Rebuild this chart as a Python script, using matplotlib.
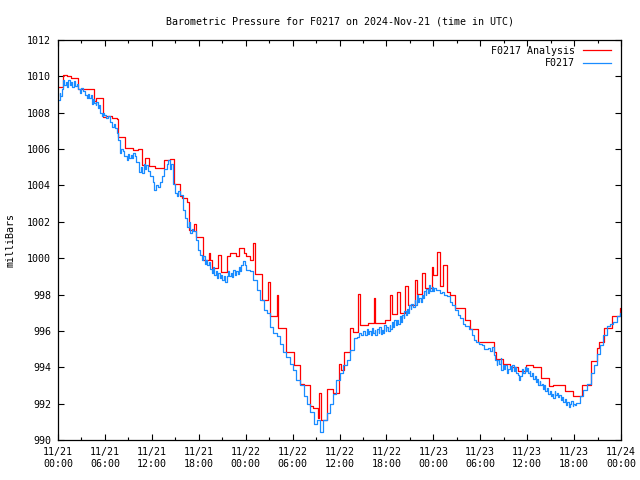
import matplotlib
matplotlib.use('Agg')
import matplotlib.pyplot as plt
from matplotlib.ticker import MultipleLocator

plt.rcParams['font.family'] = ['DejaVu Sans Mono']

# hours since 2024-11-21 00:00 UTC, pressure in mb
obs_hours = [
    0.0, 0.2, 0.3, 0.5, 0.7, 0.8, 1.0, 1.1, 1.3, 1.5, 1.6, 1.8, 2.0, 2.2, 2.4, 2.6,
    2.8, 3.0, 3.2, 3.4, 3.7, 3.8, 4.0, 4.2, 4.3, 4.5, 4.6, 4.8, 4.9, 5.1, 5.2, 5.4,
    5.6, 5.7, 5.9, 6.2, 6.4, 6.6, 6.9, 7.1, 7.3, 7.5, 7.7, 7.9, 8.1, 8.3, 8.5, 8.8,
    9.0, 9.1, 9.3, 9.4, 9.6, 9.8, 10.0, 10.3, 10.4, 10.6, 10.8, 11.0, 11.1, 11.3,
    11.5, 11.8, 12.1, 12.3, 12.5, 12.8, 13.0, 13.3, 13.6, 13.9, 14.1, 14.3, 14.5,
    14.7, 15.0, 15.2, 15.4, 15.6, 16.0, 16.2, 16.5, 16.7, 16.9, 17.1, 17.3, 17.6,
    17.9, 18.1, 18.4, 18.6, 18.8, 18.9, 19.1, 19.3, 19.5, 19.7, 19.8, 20.0, 20.2,
    20.3, 20.5, 20.7, 20.9, 21.0, 21.2, 21.4, 21.6, 21.8, 21.9, 22.1, 22.3, 22.4,
    22.6, 22.8, 23.0, 23.1, 23.3, 23.4, 23.6, 23.7, 23.9, 24.1, 24.5, 25.0, 25.4,
    25.8, 26.3, 26.7, 27.1, 27.5, 28.0, 28.4, 28.8, 29.2, 29.7, 30.1, 30.5, 30.9,
    31.4, 31.8, 32.2, 32.7, 33.1, 33.5, 33.9, 34.4, 34.8, 35.2, 35.6, 36.1, 36.5,
    36.9, 37.3, 37.8, 38.2, 38.5, 38.8, 39.0, 39.2, 39.5, 39.6, 39.8, 40.0, 40.1,
    40.3, 40.5, 40.6, 40.8, 41.0, 41.1, 41.3, 41.4, 41.6, 41.7, 41.9, 42.0, 42.2,
    42.4, 42.5, 42.7, 42.9, 43.0, 43.2, 43.3, 43.5, 43.7, 43.9, 44.0, 44.2, 44.3,
    44.5, 44.6, 44.8, 44.9, 45.1, 45.2, 45.4, 45.6, 45.7, 45.9, 46.0, 46.2, 46.4,
    46.5, 46.7, 46.8, 47.0, 47.1, 47.3, 47.4, 47.6, 47.8, 47.9, 48.1, 48.4, 48.8,
    49.1, 49.4, 49.7, 50.1, 50.4, 50.8, 51.1, 51.4, 51.8, 52.1, 52.5, 52.9, 53.2,
    53.5, 53.8, 54.2, 54.5, 55.0, 55.3, 55.5, 55.7, 55.9, 56.1, 56.2, 56.4, 56.6,
    56.7, 56.9, 57.0, 57.2, 57.4, 57.6, 57.8, 57.9, 58.1, 58.3, 58.4, 58.6, 58.8,
    59.0, 59.1, 59.3, 59.5, 59.7, 59.8, 60.0, 60.1, 60.3, 60.4, 60.6, 60.8, 61.0,
    61.1, 61.3, 61.4, 61.6, 61.7, 61.9, 62.0, 62.2, 62.3, 62.5, 62.7, 62.9, 63.0,
    63.2, 63.3, 63.5, 63.6, 63.8, 64.0, 64.1, 64.3, 64.5, 64.6, 64.8, 65.0, 65.1,
    65.3, 65.5, 65.6, 65.8, 65.9, 66.1, 66.3, 66.8, 67.2, 67.6, 68.1, 68.5, 68.9,
    69.3, 69.7, 70.2, 70.6, 71.0, 71.5, 71.9, 72.0]
obs_mb = [
    1008.7, 1009.1, 1008.9, 1009.3, 1009.8, 1009.5, 1009.7, 1009.4, 1009.8, 1009.5,
    1009.7, 1009.4, 1009.75, 1009.45, 1009.6, 1009.3, 1009.1, 1009.35, 1009.2, 1009.0,
    1008.8, 1009.05, 1008.8, 1008.95, 1008.5, 1008.75, 1008.55, 1008.4, 1008.6, 1008.25,
    1008.45, 1008.0, 1007.8, 1008.0, 1007.85, 1007.7, 1007.8, 1007.5, 1007.2, 1007.4,
    1007.15, 1006.9, 1006.5, 1005.8, 1006.0, 1005.9, 1005.6, 1005.4, 1005.75, 1005.5,
    1005.7, 1005.5, 1005.8, 1005.6, 1005.3, 1005.0, 1004.75, 1005.0, 1004.7, 1005.2,
    1004.9, 1005.1, 1004.8, 1004.5, 1004.2, 1003.75, 1004.0, 1003.9, 1004.2, 1004.5,
    1004.9, 1005.2, 1005.4, 1004.9, 1005.2, 1004.1, 1003.6, 1003.4, 1003.7, 1003.5,
    1002.65, 1002.2, 1001.7, 1002.0, 1001.4, 1001.6, 1001.5, 1001.0, 1000.45, 1000.2,
    999.9, 1000.1, 999.7, 999.9, 999.6, 999.8, 999.4, 999.2, 999.5, 999.1, 999.3,
    998.9, 999.2, 998.9, 999.1, 998.8, 999.0, 998.7, 999.0, 999.3, 999.0, 999.2,
    998.95, 999.35, 999.1, 999.3, 999.15, 999.5, 999.3, 999.6, 999.7, 999.85, 999.6,
    999.35, 999.3, 998.8, 998.25, 997.7, 997.15, 997.0, 996.2, 995.9, 995.7, 995.3,
    994.85, 994.55, 994.2, 993.85, 993.3, 993.0, 992.4, 992.0, 991.55, 990.9, 991.1,
    990.45, 991.1, 991.5, 992.0, 992.55, 993.3, 993.7, 994.1, 994.4, 994.95, 995.6,
    995.65, 995.9, 995.8, 996.0, 995.8, 996.1, 995.85, 996.0, 995.8, 996.15, 995.9,
    996.05, 995.8, 996.1, 995.9, 996.2, 995.85, 996.05, 995.9, 996.3, 996.0, 996.2,
    996.0, 996.35, 996.1, 996.5, 996.2, 996.6, 996.3, 996.6, 996.4, 996.8, 996.5,
    996.9, 996.7, 997.1, 996.9, 997.2, 997.0, 997.4, 997.2, 997.5, 997.3, 997.7,
    997.45, 997.95, 997.6, 997.8, 997.6, 998.0, 997.8, 998.2, 997.95, 998.3, 998.1,
    998.5, 998.2, 998.4, 998.2, 998.35, 998.25, 998.1, 998.15, 998.0, 997.9, 997.6,
    997.4, 997.15, 996.9, 996.7, 996.4, 996.25, 996.1, 995.8, 995.5, 995.4, 995.3,
    995.2, 995.0, 995.05, 994.9, 995.1, 994.7, 994.4, 994.1, 994.4, 994.2, 994.5,
    993.85, 994.1, 993.9, 994.1, 993.7, 993.9, 994.05, 993.8, 994.1, 993.8, 994.0,
    993.7, 993.6, 993.3, 993.5, 993.9, 993.7, 994.0, 993.8, 993.95, 993.7, 993.8,
    993.5, 993.7, 993.35, 993.5, 993.2, 993.35, 993.05, 993.25, 993.0, 993.1, 992.8,
    993.0, 992.7, 992.85, 992.55, 992.7, 992.4, 992.55, 992.3, 992.7, 992.45, 992.6,
    992.35, 992.5, 992.2, 992.35, 992.1, 992.25, 991.9, 992.1, 991.8, 992.0, 992.15,
    991.85, 992.0, 991.9, 992.05, 992.4, 992.75, 993.1, 993.7, 994.1, 994.75, 995.2,
    995.8, 996.25, 996.4, 996.5, 996.8, 997.0, 997.1]

ana_hours = [
    0.0, 0.6, 1.1, 1.6, 2.6, 4.6, 4.9, 5.7, 6.2, 6.9, 7.5, 7.7, 8.6, 9.6, 10.2, 10.7,
    11.1, 11.7, 12.4, 13.6, 14.3, 14.8, 15.6, 15.8, 16.5, 16.8, 17.4, 17.7, 18.6, 19.3,
    19.5, 19.7, 20.5, 20.9, 21.6, 22.0, 22.8, 23.1, 23.8, 24.1, 24.5, 24.9, 25.2, 26.1,
    26.9, 27.1, 28.0, 28.1, 29.2, 30.2, 31.0, 31.5, 32.2, 32.6, 33.2, 33.4, 33.6, 34.4,
    35.2, 35.9, 36.2, 36.6, 37.3, 37.7, 38.4, 38.6, 39.6, 40.4, 40.6, 41.8, 42.4, 42.7,
    43.3, 43.8, 44.4, 44.8, 45.7, 45.9, 46.5, 46.9, 47.8, 48.0, 48.5, 48.8, 49.3, 49.7,
    50.1, 50.8, 52.1, 52.7, 53.7, 55.7, 56.0, 56.9, 57.8, 58.8, 59.9, 60.8, 61.8, 62.8,
    63.3, 64.8, 65.9, 67.0, 68.1, 68.9, 69.2, 69.8, 70.9, 71.9, 72.0]
ana_mb = [
    1009.4, 1010.07, 1010.0, 1009.9, 1009.3, 1008.65, 1008.8, 1007.75, 1007.8, 1007.7,
    1007.65, 1006.65, 1006.05, 1005.95, 1006.0, 1005.1, 1005.5, 1005.05, 1004.95, 1005.4,
    1005.45, 1004.1, 1003.4, 1003.3, 1003.1, 1001.55, 1001.9, 1001.15, 999.9, 1000.3,
    999.9, 999.45, 1000.2, 999.25, 1000.1, 1000.3, 1000.1, 1000.55, 1000.3, 1000.1,
    999.9, 1000.85, 999.15, 997.7, 998.7, 996.8, 998.0, 996.15, 994.85, 994.1, 993.1,
    993.0, 991.85, 991.75, 991.2, 992.6, 991.1, 992.8, 992.6, 994.2, 993.85, 994.85,
    996.15, 995.95, 998.05, 996.3, 996.45, 997.8, 996.45, 996.6, 997.95, 996.95, 998.15,
    997.0, 998.45, 997.4, 998.8, 998.05, 999.2, 998.35, 999.5, 999.1, 1000.35, 998.45,
    999.6, 998.15, 998.0, 997.25, 996.6, 996.1, 995.4, 994.85, 994.45, 994.2, 994.0,
    993.8, 994.15, 994.0, 993.4, 992.95, 993.05, 992.7, 992.4, 993.0, 994.35, 995.05,
    995.4, 996.15, 996.8, 997.25, 997.25]

tick_hours = list(range(0, 73, 6))
tick_labels = ['11/21\n00:00', '11/21\n06:00', '11/21\n12:00', '11/21\n18:00',
               '11/22\n00:00', '11/22\n06:00', '11/22\n12:00', '11/22\n18:00',
               '11/23\n00:00', '11/23\n06:00', '11/23\n12:00', '11/23\n18:00',
               '11/24\n00:00']

fig = plt.figure(figsize=(6.4, 4.8), dpi=100)
ax = fig.add_axes([58 / 640, 40 / 480, 563 / 640, 400 / 480])

ax.plot(ana_hours, ana_mb, drawstyle='steps-post', color='#ff0000', lw=0.9,
        label='F0217 Analysis')
ax.plot(obs_hours, obs_mb, drawstyle='steps-post', color='#1a8cff', lw=0.9,
        label='F0217')

ax.set_xlim(0, 72)
ax.set_ylim(990, 1012)
ax.set_xticks(tick_hours)
ax.set_xticklabels(tick_labels)
ax.xaxis.set_minor_locator(MultipleLocator(3))
ax.yaxis.set_major_locator(MultipleLocator(2))
ax.tick_params(which='both', direction='in', top=True, right=True, labelsize=7.2,
               width=0.8, color='black')
ax.tick_params(which='major', length=4.5, pad=5)
ax.tick_params(which='minor', length=2.5)
for s in ax.spines.values():
    s.set_linewidth(0.9)

ax.set_ylabel('milliBars', fontsize=7.2, labelpad=8)
ax.set_title('Barometric Pressure for F0217 on 2024-Nov-21 (time in UTC)',
             fontsize=7.2, pad=11)

ax.legend(loc='upper right', frameon=False, markerfirst=False, fontsize=7.2,
          handlelength=2.8, handletextpad=0.8, labelspacing=0.25,
          borderaxespad=0.3, borderpad=0.3, bbox_to_anchor=(0.993, 1.0))

fig.savefig('out.png', dpi=100)
